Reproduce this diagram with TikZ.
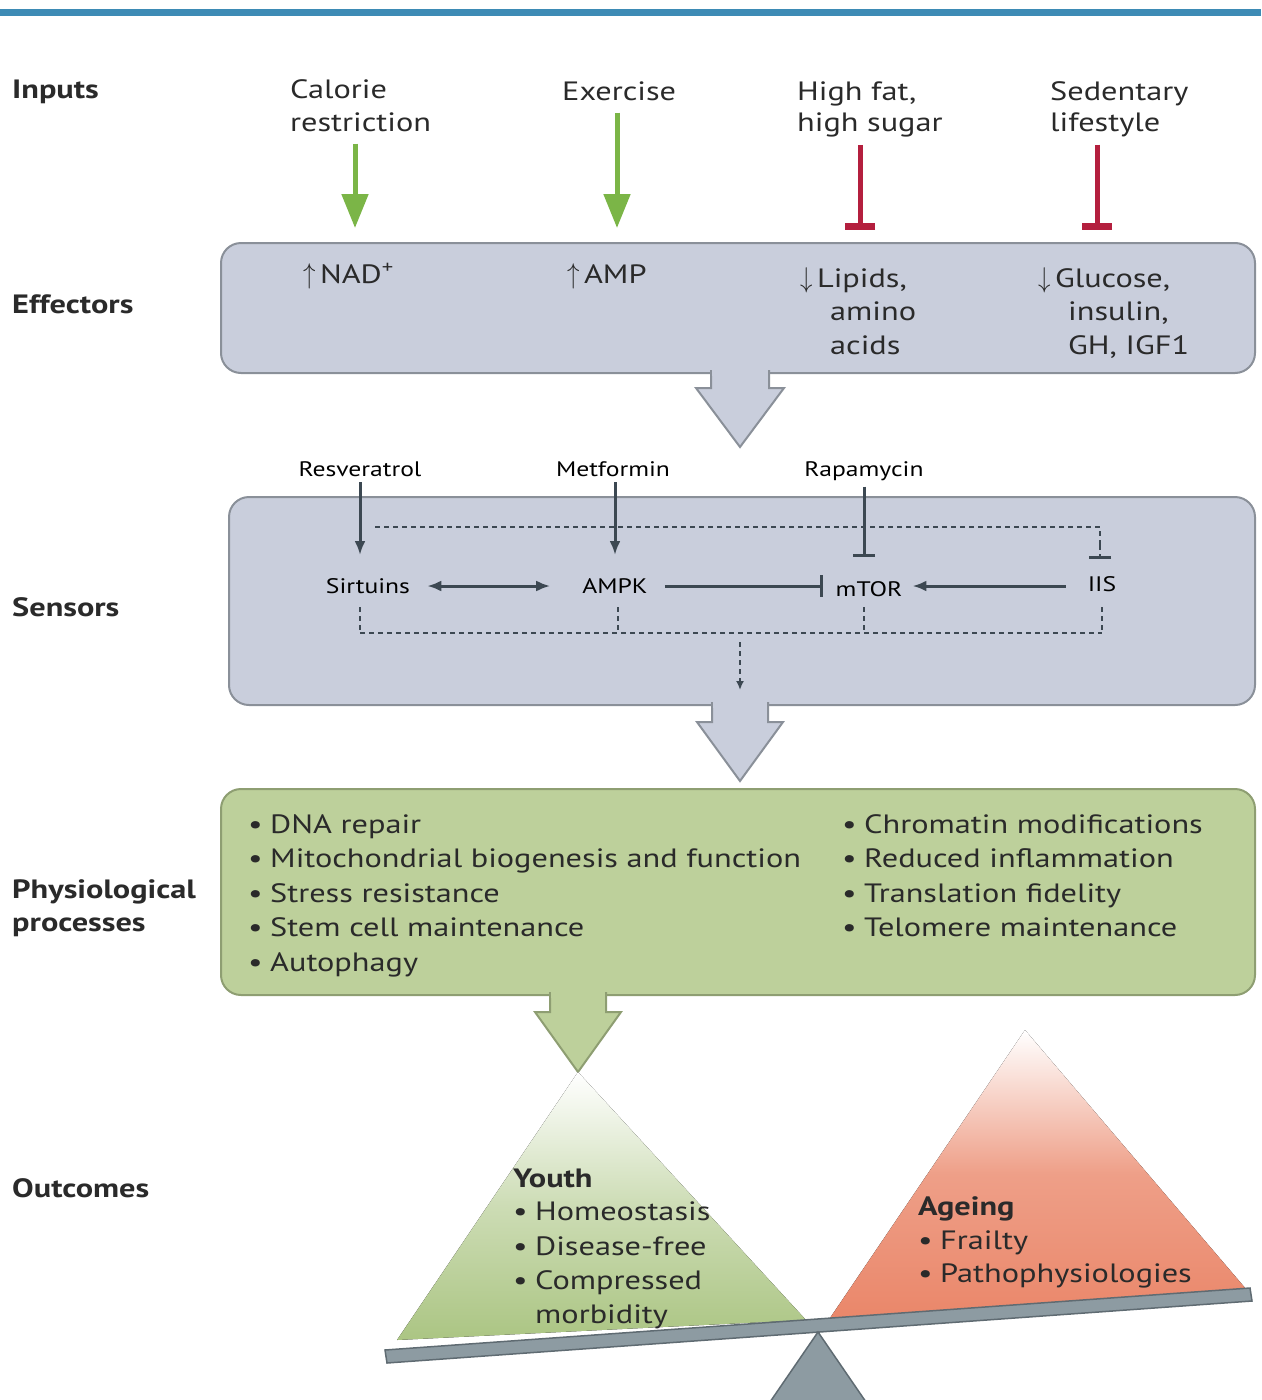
\documentclass[tikz,border=0pt]{standalone}
\usepackage{fontspec}
\setmainfont{PT Sans}[FakeStretch=1.22]
\usetikzlibrary{arrows.meta}
\definecolor{topblue}{HTML}{3D8BB5}
\definecolor{txtcol}{HTML}{2A2A2A}
\definecolor{lblcol}{HTML}{2A2A2A}
\definecolor{arrgreen}{HTML}{7BB547}
\definecolor{inhred}{HTML}{B41F3E}
\definecolor{boxfill}{HTML}{C9CEDC}
\definecolor{boxborder}{HTML}{8A9099}
\definecolor{sdark}{HTML}{3C4852}
\definecolor{physfill}{HTML}{BDD09B}
\definecolor{physborder}{HTML}{8E9E72}
\definecolor{youthgreen}{HTML}{ABC583}
\definecolor{ageorange}{HTML}{EA876A}
\definecolor{beamfill}{HTML}{8D9BA2}
\definecolor{beamborder}{HTML}{5F6B72}
\newcommand\bulA{\makebox[22pt][l]{\textbullet}}
\newcommand\bulB{\makebox[22pt][l]{\textbullet}}
\newcommand\upA{\scalebox{1}[1.15]{$\uparrow$}}
\newcommand\dnA{\scalebox{1}[1.15]{$\downarrow$}}
\begin{document}
\begin{tikzpicture}[x=1pt,y=-1pt,
  txt/.style={font=\fontsize{26.5}{30}\selectfont, text=txtcol, inner sep=0pt, anchor=base west},
  lbl/.style={font=\bfseries\fontsize{26.5}{30}\selectfont, text=lblcol, inner sep=0pt, anchor=base west},
  sens/.style={font=\fontsize{21}{25}\selectfont, text=black, inner sep=0pt, anchor=base},
  garrow/.style={draw=arrgreen, line width=5pt, -{Triangle[length=34pt,width=26pt]}},
  rbar/.style={draw=inhred, line width=5pt, -{Bar[width=30pt,line width=7pt]}},
  darr/.style={draw=sdark, line width=3pt},
  dtip/.style={-{Latex[length=14pt,width=11pt]}},
  dbar/.style={-{Bar[width=22pt,line width=3pt]}},
  dashln/.style={draw=sdark, line width=2.5pt, dash pattern=on 5pt off 4pt},
  effbox/.style={draw=boxborder, line width=2pt, fill=boxfill, rounded corners=20pt, inner sep=0pt},
  physbox/.style={draw=physborder, line width=2pt, fill=physfill, rounded corners=20pt, inner sep=0pt},
]
\useasboundingbox (0,0) rectangle (1261,1400);
% top bar
\fill[topblue] (0,9) rectangle (1261,16);

% left labels
\node[lbl] (lInputs) at (12,98) {Inputs};
\node[lbl] (lEff) at (12,313) {Effectors};
\node[lbl] (lSens) at (12,616) {Sensors};
\node[lbl] (lPhys1) at (12,898) {Physiological};
\node[lbl] (lPhys2) at (12,931) {processes};
\node[lbl] (lOut) at (12,1197) {Outcomes};

% inputs
\node[txt] (cr1) at (290,98) {Calorie};
\node[txt] (cr2) at (290,131) {restriction};
\node[txt] (ex) at (562,100) {Exercise};
\node[txt] (hf1) at (797,100) {High fat,};
\node[txt] (hf2) at (797,131) {high sugar};
\node[txt] (sl1) at (1050,100) {Sedentary};
\node[txt] (sl2) at (1050,131) {lifestyle};

% effectors box
\node[effbox, minimum width=1034pt, minimum height=130pt] (eff) at (738,308) {};
\draw[draw=boxborder, line width=2pt, fill=boxfill, line join=miter]
  (711,370) -- (711,388) -- (696,388) -- (740,447) -- (784,388) -- (769,388) -- (769,370);
\fill[boxfill] (712.3,366) rectangle (767.7,376);

\coordinate (crE) at (355,228);
\coordinate (exE) at (617,228);
\coordinate (hfE) at (860,230);
\coordinate (slE) at (1097,230);
\draw[garrow, shorten <=12pt] (cr2.south -| crE) -- (crE);
\draw[garrow, shorten <=12pt] (ex.south -| exE) -- (exE);
\draw[rbar, shorten <=8pt] (hf2.south -| hfE) -- (hfE);
\draw[rbar, shorten <=8pt] (sl2.south -| slE) -- (slE);

\node[txt] (nad) at (303,283) {\upA\,NAD\textsuperscript{+}};
\node[txt] (amp) at (567,283) {\upA\,AMP};
\node[txt] (lip1) at (800,287) {\dnA\,Lipids,};
\node[txt] (lip2) at (830,320) {amino};
\node[txt] (lip3) at (830,354) {acids};
\node[txt] (glu1) at (1038,287) {\dnA\,Glucose,};
\node[txt] (glu2) at (1068,320) {insulin,};
\node[txt] (glu3) at (1068,354) {GH, IGF1};

% sensors box
\node[effbox, minimum width=1026pt, minimum height=208pt] (sbox) at (742,601) {};
\draw[draw=boxborder, line width=2pt, fill=boxfill, line join=miter]
  (712,702) -- (712,722) -- (697,722) -- (740,781) -- (783,722) -- (768,722) -- (768,702);
\fill[boxfill] (713.3,698) rectangle (766.7,708);

\node[sens] (res) at (360,476) {Resveratrol};
\node[sens] (met) at (613,476) {Metformin};
\node[sens] (rap) at (864,476) {Rapamycin};
\node[sens] (sirt) at (368,593) {Sirtuins};
\node[sens] (ampk) at (615,593) {AMPK};
\node[sens] (mtor) at (869,596) {mTOR};
\node[sens] (iis) at (1102,591) {IIS};

\coordinate (resE) at (360,555);
\coordinate (metE) at (615,555);
\coordinate (rapE) at (864,557);
\draw[darr, dtip, shorten <=6pt] (res.south -| resE) -- (resE);
\draw[darr, dtip, shorten <=6pt] (met.south -| metE) -- (metE);
\draw[darr, dbar, shorten <=6pt] (rap.south -| rapE) -- (rapE);

\coordinate (ly) at (0,586);
\path (sirt.east |- ly) ++(17,0) coordinate (sA);
\path (ampk.west |- ly) ++(-32,0) coordinate (aA);
\path (ampk.east |- ly) ++(17,0) coordinate (aB);
\path (mtor.west |- ly) ++(-13,0) coordinate (mA);
\path (mtor.east |- ly) ++(10,0) coordinate (mB);
\path (iis.west |- ly) ++(-22,0) coordinate (iA);
\draw[darr, {Latex[length=14pt,width=11pt]}-{Latex[length=14pt,width=11pt]}] (sA) -- (aA);
\draw[darr, dbar] (aB) -- (mA);
\draw[darr, dtip] (iA) -- (mB);

% dashed feedback
\coordinate (dTopL) at (375,527);
\coordinate (dTopR) at (1100,527);
\coordinate (dIis) at (1100,559);
\draw[dashln] (dTopL) -- (dTopR) -- (1100,545);
\draw[draw=sdark, line width=2.5pt, dbar, dash pattern=on 5pt off 4pt] (1100,545) -- (dIis);

\coordinate (b1) at (360,633);
\coordinate (b2) at (618,633);
\coordinate (b3) at (864,633);
\coordinate (b4) at (1102,633);
\draw[dashln] (b1 |- sirt.south) ++(0,14) -- (b1);
\draw[dashln] (b2 |- ampk.south) ++(0,14) -- (b2);
\draw[dashln] (b3 |- mtor.south) ++(0,11) -- (b3);
\draw[dashln] (b4 |- iis.south) ++(0,16) -- (b4);
\draw[dashln] (b1) -- (b4);
\coordinate (dOut) at (740,690);
\draw[dashln, -{Latex[length=9pt,width=8pt]}] (740,642) -- (dOut);

% physiological box
\node[physbox, minimum width=1034pt, minimum height=206pt] (pbox) at (738,892) {};
\draw[draw=physborder, line width=2pt, fill=physfill, line join=miter]
  (550,992) -- (550,1012) -- (535,1012) -- (578,1072) -- (621,1012) -- (606,1012) -- (606,992);
\fill[physfill] (551.3,988) rectangle (604.7,998);

\foreach \t [count=\i] in {DNA repair, Mitochondrial biogenesis and function, Stress resistance, Stem cell maintenance, Autophagy}
  \node[txt] (pl\i) at (248,{833+(\i-1)*34.5}) {\bulA\t};
\foreach \t [count=\i] in {Chromatin modifications, Reduced inflammation, Translation fidelity, Telomere maintenance}
  \node[txt] (pr\i) at (842,{833+(\i-1)*34.5}) {\bulA\t};

% outcomes: triangles
\fill[top color=white, bottom color=youthgreen, middle color=youthgreen!60!white] (578,1072) -- (397,1340) -- (806,1320) -- cycle;
\fill[top color=white, bottom color=ageorange, middle color=ageorange!80!white] (1025,1030) -- (830,1318) -- (1246,1289) -- cycle;
% beam
\draw[fill=beamfill, draw=beamborder, line width=1.5pt] (385,1350) -- (1250,1288) -- (1252,1301) -- (387,1363) -- cycle;
% fulcrum
\draw[fill=beamfill, draw=beamborder, line width=1.5pt] (818,1332) -- (866,1402) -- (770,1402) -- cycle;

\node[lbl] (youth) at (513,1187) {Youth};
\node[txt] (y1) at (513,1220) {\bulB Homeostasis};
\node[txt] (y2) at (513,1255) {\bulB Disease-free};
\node[txt] (y3) at (513,1289) {\bulB Compressed};
\node[txt] (y4) at (535,1323) {morbidity};

\node[lbl] (age) at (918,1215) {Ageing};
\node[txt] (a1) at (918,1249) {\bulB Frailty};
\node[txt] (a2) at (918,1282) {\bulB Pathophysiologies};
\end{tikzpicture}
\end{document}
